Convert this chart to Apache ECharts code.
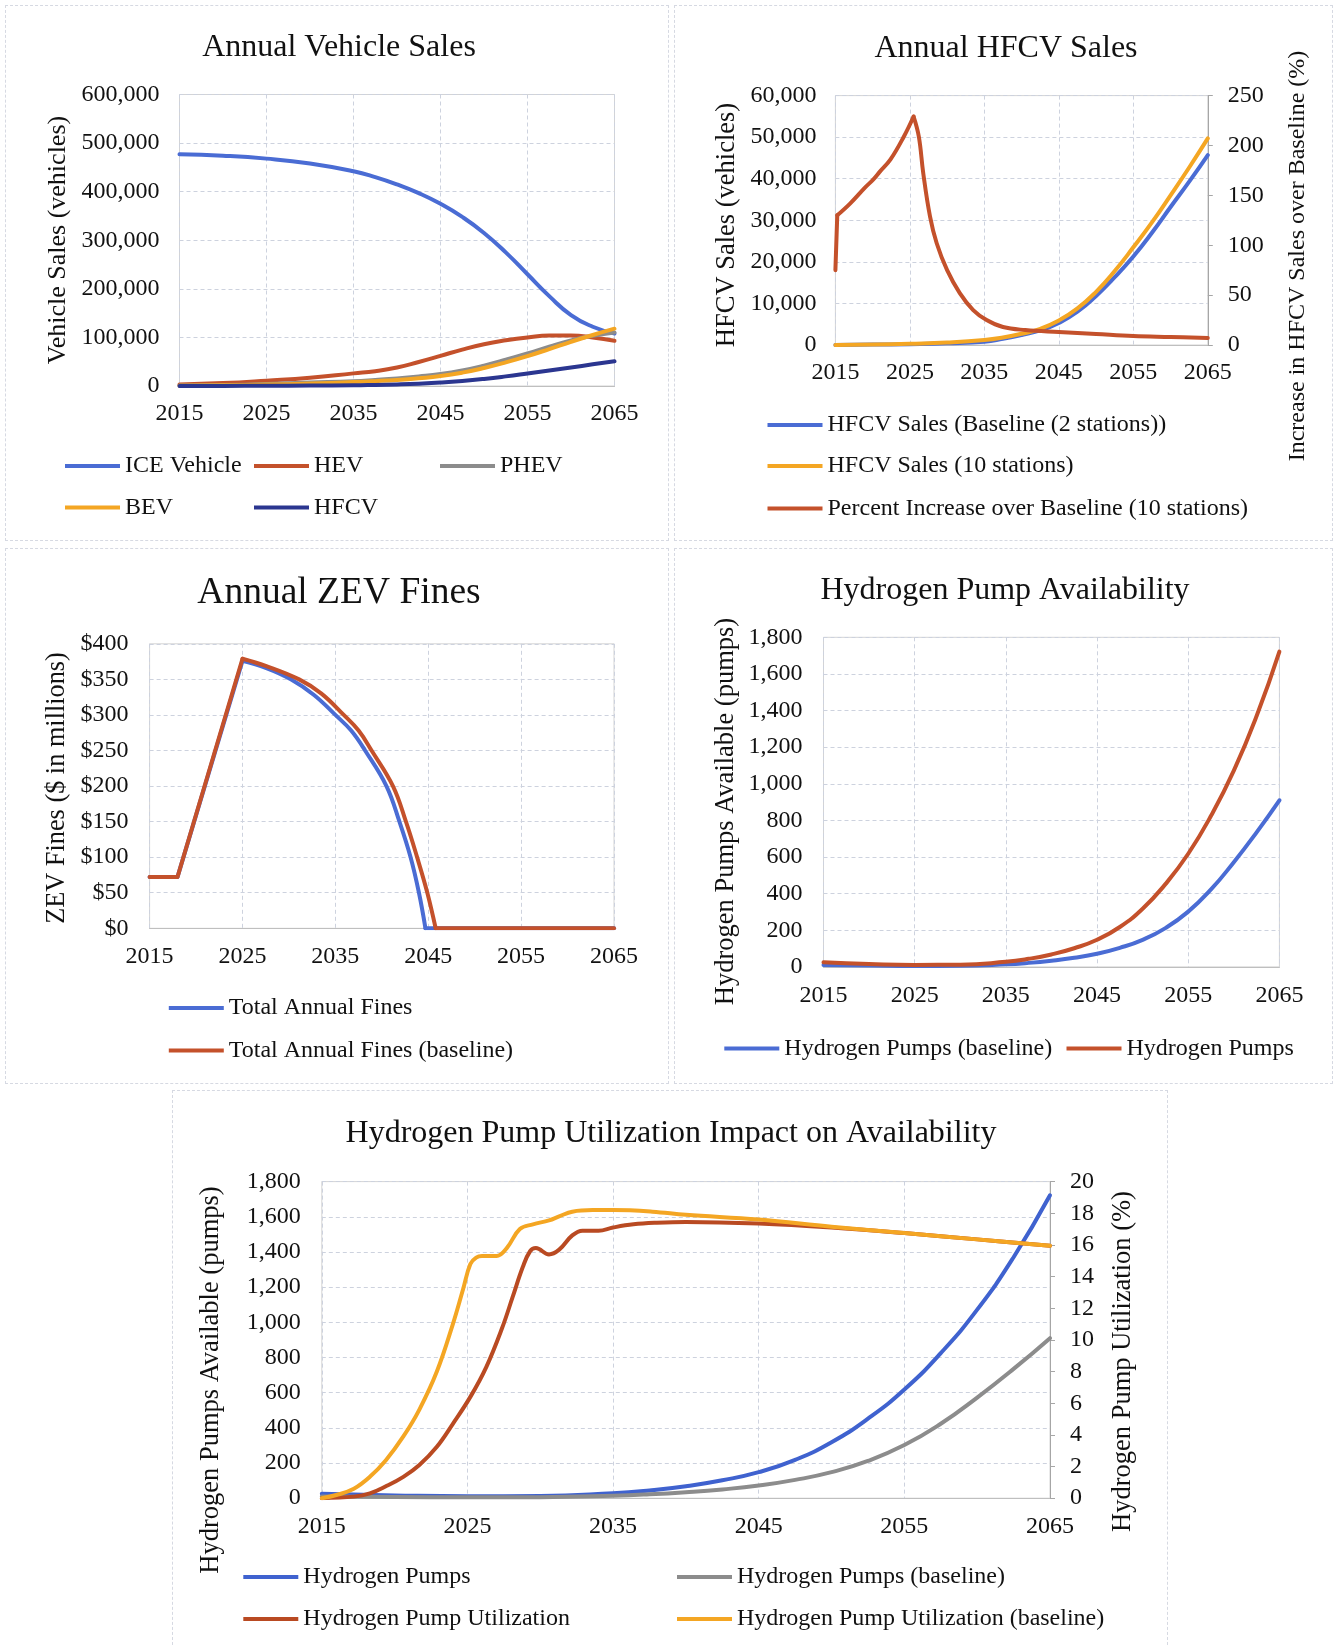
<!DOCTYPE html>
<html>
<head>
<meta charset="utf-8">
<script src="https://cdn.jsdelivr.net/npm/echarts@6/dist/echarts.min.js"></script>
<style>
  html, body { margin: 0; padding: 0; background: #fff; }
  body { width: 1335px; height: 1646px; position: relative; overflow: hidden; }
  .frame { position: absolute; box-sizing: border-box; border: 1px dashed #d6d9e2; pointer-events: none; }
  .chart { position: absolute; }
</style>
</head>
<body>
<div class="chart" id="c1" style="left:5px;top:5px;width:663px;height:535px"></div>
<div class="chart" id="c2" style="left:674px;top:5px;width:659px;height:535px"></div>
<div class="chart" id="c3" style="left:5px;top:548px;width:663px;height:535px"></div>
<div class="chart" id="c4" style="left:674px;top:548px;width:659px;height:535px"></div>
<div class="chart" id="c5" style="left:172px;top:1090px;width:995px;height:556px"></div>
<div class="frame" style="left:5px;top:5px;width:664px;height:536px"></div>
<div class="frame" style="left:674px;top:5px;width:659px;height:536px"></div>
<div class="frame" style="left:5px;top:548px;width:664px;height:536px"></div>
<div class="frame" style="left:674px;top:548px;width:659px;height:536px"></div>
<div class="frame" style="left:172px;top:1090px;width:996px;height:560px"></div>
<script>
// ---------- Annual vehicle sales (vehicles) ----------
const salesYears = [2015, 2020, 2025, 2030, 2035, 2037.5, 2040, 2042.5, 2045, 2047.5, 2050, 2052.5, 2055, 2057.5, 2060, 2062.5, 2065];
const iceSales  = [477000, 474000, 468000, 458000, 442000, 430000, 415000, 397000, 375000, 348000, 315000, 275000, 230000, 185000, 146000, 122000, 108000];
const hevSales  = [3000, 6000, 11000, 17000, 26000, 30500, 38000, 49500, 62000, 75000, 86000, 94000, 100000, 104000, 104000, 100000, 93000];
const phevSales = [1000, 2000, 4000, 7000, 10000, 12500, 15500, 19500, 24500, 32000, 42000, 54000, 67000, 81000, 94000, 103500, 110000];
const bevSales  = [500, 1500, 3000, 5000, 8000, 10000, 12500, 16000, 20500, 27500, 37000, 48500, 61500, 76000, 91000, 105000, 118000];
const hfcvSales = [0, 200, 500, 1000, 1500, 2300, 3300, 4800, 7000, 10200, 14500, 19800, 25800, 32000, 38200, 44600, 51000];

// ---------- Annual HFCV sales ----------
const hfcvYears = [2015, 2020, 2025, 2030, 2035, 2037.5, 2040, 2042.5, 2045, 2047.5, 2050, 2052.5, 2055, 2057.5, 2060, 2062.5, 2065];
const hfcvBaseline    = [0, 100, 200, 400, 800, 1500, 2400, 3500, 5300, 8000, 11800, 16300, 21300, 27000, 33200, 39300, 45700];
const hfcvTenStations = [0, 100, 300, 600, 1200, 1800, 2700, 3900, 5900, 8800, 12800, 17800, 23500, 29500, 36000, 42700, 49700];
const pctYears = [2015, 2015.25, 2017, 2019, 2020.1, 2021, 2022.4, 2024.2, 2025.5, 2026.2, 2026.8, 2027.7, 2028.6, 2030, 2031.7, 2033.5, 2035.3, 2037.5, 2040.5, 2045, 2050, 2055, 2060, 2065];
const pctIncrease = [75, 130, 142, 158, 166, 174, 186, 209, 229, 209, 172, 129, 102, 75, 52, 35, 25, 18, 15, 13, 11, 9, 8, 7];

// ---------- Annual ZEV fines ($ in millions) ----------
const finesYears = [2015, 2018, 2025, 2027.5, 2030.2, 2032.7, 2035, 2036.7, 2038.2, 2040.5, 2041.9, 2043.1, 2044, 2044.7, 2050, 2055, 2060, 2065];
const finesTotal = [72, 72, 376, 366, 350, 328, 300, 278, 250, 200, 150, 100, 50, 0, 0, 0, 0, 0];
const finesBaseYears = [2015, 2018, 2025, 2027.5, 2031.1, 2033.5, 2035.9, 2037.5, 2038.9, 2041.2, 2042.6, 2043.8, 2044.9, 2045.8, 2050, 2055, 2060, 2065];
const finesBaseline = [72, 72, 379, 369, 350, 330, 300, 278, 250, 200, 150, 100, 50, 0, 0, 0, 0, 0];

// ---------- Hydrogen pumps available ----------
const pumpYears = [2015, 2020, 2025, 2030, 2035, 2037.5, 2040, 2042.5, 2045, 2047.5, 2050, 2052.5, 2055, 2057.5, 2060, 2062.5, 2065];
const pumpsAvailable = [25, 16, 11, 12, 28, 44, 68, 102, 148, 218, 318, 452, 618, 825, 1072, 1370, 1722];
const pumpsBaseline  = [10, 7, 5, 6, 14, 22, 34, 50, 72, 104, 148, 212, 302, 423, 572, 735, 910];

// ---------- Hydrogen pump utilization (%) ----------
const utilYears = [2015, 2017.2, 2018.3, 2019.4, 2020.6, 2021.7, 2022.9, 2024, 2025.2, 2026.3, 2027.4, 2028.1, 2028.8, 2029.3, 2029.7, 2030.6, 2031.3, 2032.2, 2032.9, 2034, 2035, 2036.4, 2038, 2040, 2045, 2050, 2055, 2060, 2065];
const utilization = [0, 0.1, 0.3, 0.75, 1.35, 2.1, 3.25, 4.7, 6.4, 8.3, 10.8, 12.7, 14.6, 15.6, 15.8, 15.4, 15.7, 16.6, 16.9, 16.9, 17.1, 17.3, 17.4, 17.45, 17.35, 17.1, 16.75, 16.35, 15.95];
const utilBaseYears = [2015, 2016, 2017.2, 2018.3, 2019.4, 2020.6, 2021.7, 2022.9, 2024, 2024.7, 2025.2, 2025.6, 2026, 2027, 2027.7, 2028.6, 2029.5, 2030.6, 2031.3, 2032.2, 2033.6, 2035, 2037.7, 2040, 2045, 2050, 2055, 2060, 2065];
const utilizationBaseline = [0, 0.2, 0.6, 1.35, 2.4, 3.9, 5.6, 8.0, 11.0, 13.2, 14.8, 15.2, 15.3, 15.3, 15.8, 17.0, 17.3, 17.55, 17.8, 18.1, 18.2, 18.2, 18.1, 17.9, 17.6, 17.15, 16.75, 16.35, 15.95];

// ---------- shared styling ----------
const FONT = 'Liberation Serif';
const INK = '#111';
const BLUE = '#4a6cd4';
const RED = '#c4512b';
const GRAY = '#8c8c8c';
const GOLD = '#f4a623';
const NAVY = '#2b3690';
const LINE_W = 4;
const GRID_LINE = { color: '#cdd2de', type: [4, 3], width: 1 };

const zip = (xs, ys) => xs.map((x, i) => [x, ys[i]]);
const thousands = v => Math.round(v).toLocaleString('en-US');

function yearAxis(margin) {
  return {
    type: 'value', min: 2015, max: 2065, interval: 10,
    axisLine: { show: true, lineStyle: { color: '#bfbfbf', width: 1 } },
    axisTick: { show: false },
    axisLabel: { formatter: v => String(v), fontFamily: FONT, fontSize: 24, color: INK, margin: margin },
    splitLine: { show: true, lineStyle: GRID_LINE }
  };
}
function valueAxis(max, interval, fmt, margin) {
  return {
    type: 'value', min: 0, max: max, interval: interval,
    axisLine: { show: false }, axisTick: { show: false },
    axisLabel: { formatter: fmt, fontFamily: FONT, fontSize: 24, color: INK, margin: margin },
    splitLine: { show: true, lineStyle: GRID_LINE }
  };
}
function rightAxis(max, interval, margin) {
  return {
    type: 'value', position: 'right', min: 0, max: max, interval: interval,
    axisLine: { show: true, lineStyle: { color: '#a6a6a6', width: 1 } },
    axisTick: { show: true, inside: false, length: 5, lineStyle: { color: '#a6a6a6' } },
    axisLabel: { formatter: v => String(v), fontFamily: FONT, fontSize: 24, color: INK, margin: margin },
    splitLine: { show: false }
  };
}
function line(name, data, color, opts) {
  return Object.assign({
    type: 'line', name: name, data: data, color: color,
    showSymbol: false, symbol: 'none', smooth: 0.5,
    lineStyle: { color: color, width: LINE_W, cap: 'round', join: 'round' },
    emphasis: { disabled: true }, silent: true, animation: false
  }, opts || {});
}
function legendItem(name, left, cy) {
  return {
    data: [name], left: left, top: cy - 12, orient: 'horizontal',
    icon: 'rect', itemWidth: 55, itemHeight: 4, itemGap: 0, padding: 0,
    selectedMode: false,
    textStyle: { fontFamily: FONT, fontSize: 24, color: INK }
  };
}
function label(text, x, y, size, vertical) {
  return {
    type: 'text', x: x, y: y, rotation: vertical ? Math.PI / 2 : 0, silent: true,
    style: { text: text, fill: INK, font: size + 'px "' + FONT + '"', align: 'center', verticalAlign: 'middle' }
  };
}
function gridBox(left, top, width, height) {
  return { left: left, top: top, width: width, height: height, containLabel: false, outerBoundsMode: 'none',
           show: true, borderColor: '#d4d4d4', borderWidth: 1, backgroundColor: 'transparent' };
}
function render(id, option) {
  const chart = echarts.init(document.getElementById(id), null, { renderer: 'canvas' });
  option.animation = false;
  option.backgroundColor = 'transparent';
  chart.setOption(option);
}

// Annual Vehicle Sales
render('c1', {
  grid: gridBox(174.5, 89.5, 435, 291.5),
  xAxis: yearAxis(16),
  yAxis: valueAxis(600000, 100000, thousands, 20),
  series: [
    line('ICE Vehicle', zip(salesYears, iceSales), BLUE),
    line('HEV', zip(salesYears, hevSales), RED),
    line('PHEV', zip(salesYears, phevSales), GRAY),
    line('BEV', zip(salesYears, bevSales), GOLD),
    line('HFCV', zip(salesYears, hfcvSales), NAVY)
  ],
  legend: [
    legendItem('ICE Vehicle', 60, 461),
    legendItem('HEV', 249, 461),
    legendItem('PHEV', 435, 461),
    legendItem('BEV', 60, 502.5),
    legendItem('HFCV', 249, 502.5)
  ],
  graphic: [
    label('Annual Vehicle Sales', 334, 42.5, 32),
    label('Vehicle Sales (vehicles)', 53, 235, 26, true)
  ]
});

// Annual HFCV Sales: the percent line is drawn in three pieces so the jump at
// the start and the peak stay sharp while the rise and the decay stay smooth.
const pctPoints = zip(pctYears, pctIncrease);
const PCT_NAME = 'Percent Increase over Baseline (10 stations)';
render('c2', {
  grid: gridBox(161.4, 90.6, 372.4, 249.4),
  xAxis: yearAxis(16),
  yAxis: [
    valueAxis(60000, 10000, thousands, 19),
    rightAxis(250, 50, 20)
  ],
  series: [
    line('HFCV Sales (Baseline (2 stations))', zip(hfcvYears, hfcvBaseline), BLUE),
    line('HFCV Sales (10 stations)', zip(hfcvYears, hfcvTenStations), GOLD),
    line(PCT_NAME, pctPoints.slice(0, 2), RED, { yAxisIndex: 1, smooth: false }),
    line(PCT_NAME, pctPoints.slice(1, 9), RED, { yAxisIndex: 1, smooth: 0.4 }),
    line(PCT_NAME, pctPoints.slice(8), RED, { yAxisIndex: 1, smooth: 0.4 })
  ],
  legend: [
    legendItem('HFCV Sales (Baseline (2 stations))', 93.5, 420),
    legendItem('HFCV Sales (10 stations)', 93.5, 461),
    legendItem(PCT_NAME, 93.5, 503.5)
  ],
  graphic: [
    label('Annual HFCV Sales', 332, 44, 32),
    label('HFCV Sales (vehicles)', 53, 220, 26.5, true),
    label('Increase in HFCV Sales over Baseline (%)', 624, 251, 24, true)
  ]
});

// Annual ZEV Fines: straight ramp up, curved decline, flat zero tail.
const finesPts = zip(finesYears, finesTotal);
const finesBasePts = zip(finesBaseYears, finesBaseline);
const FINES = 'Total Annual Fines';
const FINES_BASE = 'Total Annual Fines (baseline)';
render('c3', {
  grid: gridBox(144.6, 95.8, 464.4, 284.5),
  xAxis: yearAxis(16),
  yAxis: valueAxis(400, 50, v => '$' + v, 21),
  series: [
    line(FINES, finesPts.slice(0, 3), BLUE, { smooth: false }),
    line(FINES, finesPts.slice(2, 14), BLUE, { smooth: 0.4 }),
    line(FINES, finesPts.slice(13), BLUE, { smooth: false }),
    line(FINES_BASE, finesBasePts.slice(0, 3), RED, { smooth: false }),
    line(FINES_BASE, finesBasePts.slice(2, 14), RED, { smooth: 0.4 }),
    line(FINES_BASE, finesBasePts.slice(13), RED, { smooth: false })
  ],
  legend: [
    legendItem(FINES, 163.8, 460),
    legendItem(FINES_BASE, 163.8, 502.5)
  ],
  graphic: [
    label('Annual ZEV Fines', 334, 45, 37.5),
    label('ZEV Fines ($ in millions)', 52, 240, 26.3, true)
  ]
});

// Hydrogen Pump Availability
render('c4', {
  grid: gridBox(149.5, 89.3, 455.9, 329.6),
  xAxis: yearAxis(17),
  yAxis: valueAxis(1800, 200, thousands, 21),
  series: [
    line('Hydrogen Pumps (baseline)', zip(pumpYears, pumpsBaseline), BLUE),
    line('Hydrogen Pumps', zip(pumpYears, pumpsAvailable), RED)
  ],
  legend: [
    legendItem('Hydrogen Pumps (baseline)', 50.3, 500.5),
    legendItem('Hydrogen Pumps', 392.5, 500.5)
  ],
  graphic: [
    label('Hydrogen Pump Availability', 331, 43, 32),
    label('Hydrogen Pumps Available (pumps)', 52.4, 263.5, 26.5, true)
  ]
});

// Hydrogen Pump Utilization Impact on Availability
render('c5', {
  grid: gridBox(149.8, 91.6, 728.2, 316.6),
  xAxis: yearAxis(17),
  yAxis: [
    valueAxis(1800, 200, thousands, 21),
    rightAxis(20, 2, 20)
  ],
  series: [
    line('Hydrogen Pumps', zip(pumpYears, pumpsAvailable), '#3f62cf'),
    line('Hydrogen Pumps (baseline)', zip(pumpYears, pumpsBaseline), GRAY),
    line('Hydrogen Pump Utilization', zip(utilYears, utilization), '#b94a22', { yAxisIndex: 1, smooth: 0.4 }),
    line('Hydrogen Pump Utilization (baseline)', zip(utilBaseYears, utilizationBaseline), GOLD, { yAxisIndex: 1, smooth: 0.4 })
  ],
  legend: [
    legendItem('Hydrogen Pumps', 71.3, 487),
    legendItem('Hydrogen Pumps (baseline)', 505, 487),
    legendItem('Hydrogen Pump Utilization', 71.3, 529),
    legendItem('Hydrogen Pump Utilization (baseline)', 505, 529)
  ],
  graphic: [
    label('Hydrogen Pump Utilization Impact on Availability', 499, 43.5, 32),
    label('Hydrogen Pumps Available (pumps)', 39.5, 290, 26.5, true),
    label('Hydrogen Pump Utilization (%)', 951.5, 271.5, 26.5, true)
  ]
});
</script>
</body>
</html>
